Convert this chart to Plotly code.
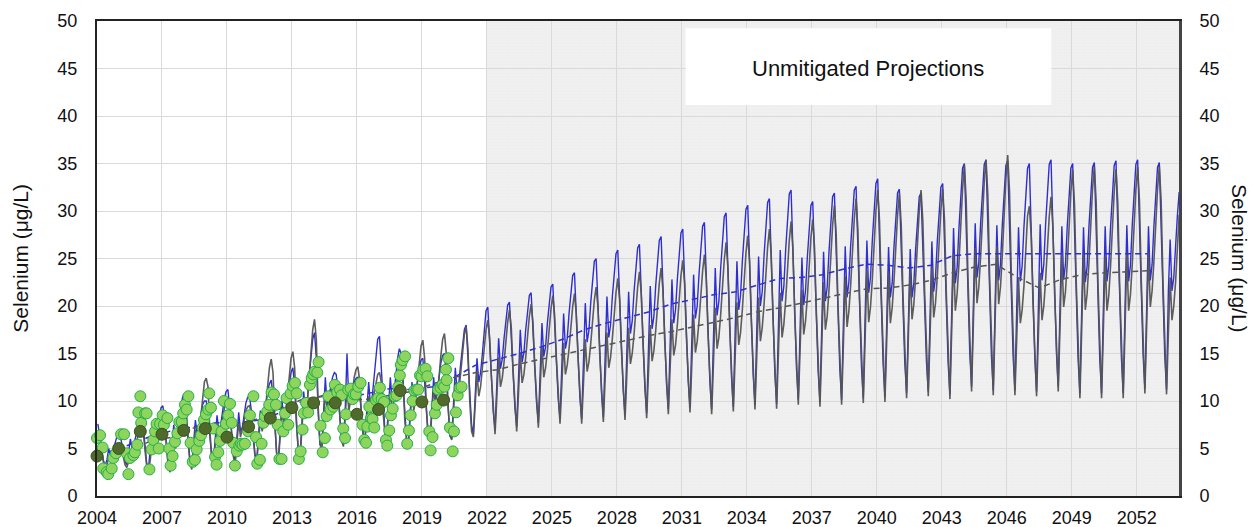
import numpy as np
import plotly.graph_objects as go

# ---------------- DATA ----------------
# Modelled monthly selenium (ug/L), one row per year (Jan..Dec), 2004-2053
model_years = list(range(2004, 2054))

blue_model = [
    [7.6, 6.5, 5.0, 3.8, 3.2, 3.8, 5.0, 4.2, 4.6, 5.2, 6.0, 6.6],          # 2004
    [6.8, 5.8, 4.5, 3.6, 3.3, 4.5, 6.0, 5.0, 5.5, 6.3, 7.2, 8.0],          # 2005
    [8.6, 7.5, 5.5, 3.5, 2.9, 4.8, 7.0, 5.5, 6.2, 7.5, 8.6, 9.3],          # 2006
    [9.5, 7.8, 5.2, 3.2, 2.8, 5.0, 7.5, 6.0, 6.8, 8.2, 9.5, 10.5],         # 2007
    [10.7, 8.8, 6.0, 3.8, 3.0, 5.5, 8.0, 6.5, 7.2, 8.5, 9.6, 10.0],        # 2008
    [10.0, 8.5, 6.2, 4.2, 3.6, 6.0, 8.5, 6.8, 7.5, 8.8, 10.2, 11.0],       # 2009
    [11.2, 9.4, 6.8, 4.5, 3.5, 6.5, 8.8, 6.8, 7.2, 8.5, 9.8, 10.4],        # 2010
    [10.5, 9.0, 6.5, 4.4, 3.8, 6.5, 9.0, 7.2, 8.0, 9.5, 11.0, 11.8],       # 2011
    [12.2, 10.5, 7.0, 4.5, 3.8, 7.0, 10.0, 8.0, 8.8, 10.5, 12.0, 13.0],    # 2012
    [13.5, 11.5, 7.5, 4.8, 4.2, 8.0, 11.0, 9.0, 10.0, 12.5, 15.0, 16.5],   # 2013
    [17.2, 14.5, 9.0, 5.5, 5.0, 9.0, 12.5, 9.5, 10.5, 11.8, 12.5, 13.0],   # 2014
    [12.8, 11.0, 8.0, 5.8, 5.4, 9.0, 15.0, 10.0, 10.8, 11.5, 12.0, 12.4],  # 2015
    [12.5, 10.8, 8.2, 6.5, 6.2, 9.0, 12.0, 9.5, 10.5, 12.5, 15.0, 16.5],   # 2016
    [16.8, 13.5, 9.0, 6.8, 6.4, 9.5, 12.5, 10.0, 11.0, 12.5, 14.5, 15.5],  # 2017
    [15.0, 12.0, 8.5, 6.0, 5.6, 9.0, 12.0, 9.8, 10.5, 12.0, 13.5, 14.3],   # 2018
    [14.5, 12.0, 8.5, 6.2, 6.0, 9.5, 12.5, 10.0, 11.0, 12.5, 14.0, 14.8],  # 2019
    [15.0, 12.5, 9.0, 6.3, 6.0, 10.0, 13.5, 11.0, 12.0, 14.0, 16.0, 17.5], # 2020
    [18.0, 14.5, 10.5, 7.5, 6.5, 11.0, 14.5, 12.0, 13.0, 15.0, 17.5, 19.5],# 2021
    [19.9, 16.0, 12.2, 8.9, 7.0, 13.0, 16.6, 13.4, 14.4, 16.6, 18.8, 20.1],# 2022
    [20.4, 16.5, 12.5, 9.3, 7.3, 13.6, 17.5, 14.1, 15.1, 17.5, 19.7, 21.1],# 2023
    [21.4, 17.3, 13.2, 9.8, 7.7, 14.3, 18.2, 14.7, 15.7, 18.2, 20.5, 22.0],# 2024
    [22.3, 18.0, 13.8, 10.2, 8.1, 15.0, 19.2, 15.5, 16.6, 19.2, 21.7, 23.2],# 2025
    [23.5, 18.9, 14.3, 10.4, 8.1, 15.7, 20.3, 16.2, 17.4, 20.3, 23.0, 24.7],# 2026
    [25.0, 20.0, 15.0, 10.8, 8.3, 16.2, 21.0, 16.7, 18.0, 21.0, 23.8, 25.5],# 2027
    [25.9, 20.7, 15.5, 11.1, 8.5, 16.6, 21.5, 17.1, 18.4, 21.5, 24.3, 26.1],# 2028
    [26.5, 21.2, 15.8, 11.4, 8.7, 17.1, 22.1, 17.6, 18.9, 22.1, 25.1, 26.9],# 2029
    [27.3, 21.8, 16.4, 11.8, 9.1, 17.7, 22.8, 18.2, 19.6, 22.8, 25.8, 27.7],# 2030
    [28.1, 22.5, 16.8, 12.1, 9.3, 18.1, 23.3, 18.7, 20.0, 23.3, 26.5, 28.4],# 2031
    [28.8, 22.9, 17.0, 12.1, 9.1, 18.4, 24.0, 19.0, 20.5, 24.0, 27.3, 29.4],# 2032
    [29.8, 23.7, 17.6, 12.5, 9.4, 18.9, 24.7, 19.6, 21.1, 24.7, 28.1, 30.2],# 2033
    [30.6, 24.3, 18.0, 12.8, 9.6, 19.4, 25.2, 20.0, 21.5, 25.2, 28.7, 30.9],# 2034
    [31.3, 24.8, 18.3, 12.9, 9.7, 19.8, 25.9, 20.5, 22.1, 25.9, 29.5, 31.8],# 2035
    [32.2, 25.6, 18.9, 13.4, 10.1, 19.5, 25.1, 20.1, 21.6, 25.1, 28.5, 30.6],# 2036
    [31.0, 24.7, 18.3, 13.1, 9.9, 19.8, 25.7, 20.5, 22.0, 25.7, 29.3, 31.5],# 2037
    [31.9, 25.4, 18.8, 13.4, 10.1, 20.2, 26.3, 20.9, 22.5, 26.3, 29.9, 32.2],# 2038
    [32.6, 25.9, 19.2, 13.6, 10.3, 20.7, 26.9, 21.4, 23.0, 26.9, 30.6, 32.9],# 2039
    [33.4, 26.5, 19.6, 13.9, 10.4, 20.3, 26.2, 20.9, 22.4, 26.2, 29.7, 31.9],# 2040
    [32.3, 25.9, 19.4, 14.0, 10.8, 20.3, 26.0, 20.9, 22.4, 26.0, 29.4, 31.5],# 2041
    [31.9, 25.6, 19.4, 14.1, 11.0, 20.9, 26.8, 21.5, 23.0, 26.8, 30.3, 32.5],# 2042
    [32.9, 26.2, 19.6, 14.0, 10.7, 21.6, 28.2, 22.4, 24.1, 28.2, 32.1, 34.5],# 2043
    [35.0, 28.0, 20.9, 15.0, 11.5, 22.3, 28.7, 23.0, 24.6, 28.7, 32.5, 34.9],# 2044
    [35.4, 28.1, 20.8, 14.7, 11.1, 22.0, 28.5, 22.7, 24.4, 28.5, 32.4, 34.8],# 2045
    [35.3, 28.0, 20.8, 14.7, 11.1, 21.9, 28.3, 22.6, 24.2, 28.3, 32.1, 34.5],# 2046
    [35.0, 27.8, 20.6, 14.6, 11.0, 22.0, 28.6, 22.7, 24.4, 28.6, 32.5, 34.9],# 2047
    [35.4, 28.2, 21.1, 15.1, 11.5, 22.1, 28.4, 22.8, 24.4, 28.4, 32.2, 34.5],# 2048
    [35.0, 27.7, 20.5, 14.4, 10.8, 21.7, 28.3, 22.5, 24.2, 28.3, 32.2, 34.6],# 2049
    [35.1, 27.8, 20.5, 14.4, 10.8, 21.8, 28.4, 22.6, 24.3, 28.4, 32.4, 34.8],# 2050
    [35.3, 28.0, 20.6, 14.5, 10.8, 21.9, 28.5, 22.6, 24.3, 28.5, 32.4, 34.9],# 2051
    [35.4, 28.2, 20.9, 14.9, 11.3, 22.0, 28.4, 22.7, 24.4, 28.4, 32.2, 34.6],# 2052
    [35.1, 27.9, 20.8, 14.8, 11.2, 21.5, 27.0, 21.6, 23.0, 26.5, 29.5, 32.0],# 2053
]

gray_model = [
    [6.5, 6.0, 4.8, 3.6, 3.0, 3.3, 4.0, 3.6, 3.8, 4.2, 4.8, 5.3],          # 2004
    [5.5, 5.2, 4.2, 3.3, 3.0, 3.6, 4.8, 4.2, 4.6, 5.4, 6.3, 7.0],          # 2005
    [7.5, 7.0, 5.0, 3.2, 2.6, 3.8, 5.8, 4.6, 5.3, 6.5, 7.6, 8.2],          # 2006
    [8.5, 7.8, 5.0, 3.0, 2.5, 4.0, 6.2, 5.0, 5.8, 7.0, 8.0, 8.6],          # 2007
    [8.8, 8.2, 5.5, 3.4, 2.8, 4.5, 7.0, 5.5, 6.5, 8.5, 10.5, 12.0],        # 2008
    [12.4, 11.5, 7.0, 4.2, 3.4, 5.5, 7.5, 6.0, 6.8, 8.0, 9.2, 9.8],        # 2009
    [10.0, 9.2, 6.5, 4.2, 3.3, 5.5, 7.8, 6.2, 7.0, 8.0, 9.0, 9.4],         # 2010
    [9.5, 8.8, 6.2, 4.2, 3.6, 5.8, 8.0, 6.8, 7.8, 9.5, 11.5, 13.5],        # 2011
    [14.4, 13.0, 8.0, 4.5, 3.7, 6.0, 9.0, 7.5, 8.5, 10.5, 12.8, 14.5],     # 2012
    [15.2, 13.5, 8.0, 4.8, 4.0, 7.0, 10.0, 8.5, 9.8, 12.5, 15.5, 17.5],    # 2013
    [18.6, 16.5, 9.5, 5.5, 4.8, 8.0, 11.0, 9.0, 10.0, 11.0, 11.8, 12.0],   # 2014
    [12.0, 11.2, 8.0, 5.8, 5.2, 8.0, 11.5, 9.0, 10.0, 11.0, 12.5, 13.3],   # 2015
    [13.6, 12.2, 8.5, 6.4, 6.0, 8.0, 10.5, 8.8, 9.8, 11.0, 12.2, 12.8],    # 2016
    [13.0, 12.0, 8.8, 6.5, 6.2, 8.5, 11.0, 9.2, 10.0, 11.2, 12.5, 13.6],   # 2017
    [14.0, 12.5, 8.0, 5.8, 5.5, 8.0, 11.0, 9.0, 10.2, 12.0, 14.0, 15.8],   # 2018
    [16.4, 14.5, 9.0, 6.3, 5.9, 8.5, 11.5, 9.5, 10.8, 12.5, 14.8, 16.5],   # 2019
    [17.1, 15.0, 9.5, 6.5, 5.9, 8.8, 12.0, 10.0, 11.2, 13.0, 15.2, 17.0],  # 2020
    [17.8, 15.5, 10.0, 6.8, 6.2, 9.5, 13.0, 10.5, 11.5, 13.5, 15.5, 17.5], # 2021
    [18.5, 16.7, 12.5, 8.9, 6.5, 10.4, 14.6, 11.5, 12.4, 14.1, 16.3, 18.3],# 2022
    [19.6, 17.7, 13.2, 9.4, 6.8, 10.8, 15.1, 11.9, 12.8, 14.6, 16.9, 18.9],# 2023
    [20.2, 18.3, 13.7, 9.8, 7.2, 11.4, 15.8, 12.5, 13.5, 15.3, 17.6, 19.7],# 2024
    [21.1, 19.1, 14.4, 10.3, 7.6, 11.7, 16.1, 12.8, 13.8, 15.5, 17.9, 19.9],# 2025
    [21.3, 19.2, 14.5, 10.3, 7.6, 11.9, 16.5, 13.1, 14.1, 16.0, 18.4, 20.6],# 2026
    [22.0, 19.9, 14.9, 10.6, 7.8, 12.3, 17.2, 13.5, 14.6, 16.6, 19.1, 21.4],# 2027
    [22.9, 20.7, 15.5, 11.0, 8.0, 12.7, 17.7, 13.9, 15.0, 17.0, 19.7, 22.0],# 2028
    [23.6, 21.3, 15.9, 11.3, 8.2, 12.9, 18.0, 14.2, 15.3, 17.4, 20.1, 22.4],# 2029
    [24.0, 21.7, 16.3, 11.7, 8.6, 13.5, 18.6, 14.8, 15.9, 18.0, 20.8, 23.2],# 2030
    [24.8, 22.4, 16.8, 12.0, 8.8, 13.8, 19.1, 15.1, 16.3, 18.4, 21.3, 23.7],# 2031
    [25.4, 22.9, 17.0, 12.0, 8.6, 14.0, 19.8, 15.5, 16.7, 19.1, 22.2, 24.9],# 2032
    [26.7, 24.0, 17.8, 12.5, 8.9, 14.5, 20.4, 15.9, 17.2, 19.6, 22.8, 25.6],# 2033
    [27.4, 24.7, 18.3, 12.8, 9.1, 14.8, 20.9, 16.3, 17.7, 20.1, 23.4, 26.2],# 2034
    [28.1, 25.3, 18.7, 13.0, 9.2, 15.1, 21.4, 16.7, 18.1, 20.6, 24.0, 26.9],# 2035
    [28.9, 26.0, 19.3, 13.5, 9.6, 15.5, 21.7, 17.0, 18.4, 20.9, 24.2, 27.2],# 2036
    [29.1, 26.1, 19.3, 13.3, 9.4, 15.8, 22.5, 17.5, 18.9, 21.7, 25.3, 28.5],# 2037
    [30.6, 27.5, 20.1, 13.8, 9.6, 16.1, 23.1, 17.8, 19.4, 22.2, 25.9, 29.1],# 2038
    [31.3, 28.1, 20.6, 14.1, 9.8, 16.5, 23.7, 18.3, 19.9, 22.8, 26.6, 30.0],# 2039
    [32.2, 28.9, 21.1, 14.4, 9.9, 16.5, 23.5, 18.2, 19.8, 22.6, 26.3, 29.6],# 2040
    [31.8, 28.6, 21.1, 14.6, 10.3, 16.9, 23.9, 18.6, 20.2, 23.0, 26.7, 30.0],# 2041
    [32.2, 28.9, 21.4, 14.8, 10.5, 17.0, 24.0, 18.8, 20.3, 23.1, 26.9, 30.1],# 2042
    [32.3, 29.0, 21.3, 14.6, 10.2, 17.6, 25.5, 19.5, 21.3, 24.5, 28.7, 32.3],# 2043
    [34.8, 31.2, 22.9, 15.8, 11.0, 18.3, 26.1, 20.3, 22.0, 25.2, 29.3, 33.0],# 2044
    [35.4, 31.7, 23.0, 15.6, 10.6, 18.2, 26.3, 20.2, 22.0, 25.3, 29.6, 33.4],# 2045
    [35.9, 32.1, 23.3, 15.7, 10.6, 16.6, 22.9, 18.2, 19.6, 22.1, 25.5, 29.5],# 2046
    [30.5, 27.5, 20.5, 14.5, 10.5, 16.8, 23.5, 18.5, 20.0, 22.7, 26.3, 29.4],# 2047
    [31.5, 28.4, 21.3, 15.1, 11.0, 18.0, 25.4, 19.9, 21.5, 24.5, 28.5, 32.0],# 2048
    [34.3, 30.7, 22.3, 15.1, 10.3, 17.6, 25.4, 19.6, 21.3, 24.5, 28.6, 32.3],# 2049
    [34.7, 31.0, 22.5, 15.2, 10.3, 17.5, 25.2, 19.5, 21.1, 24.3, 28.4, 32.0],# 2050
    [34.4, 30.8, 22.4, 15.1, 10.3, 17.6, 25.4, 19.5, 21.2, 24.4, 28.5, 32.2],# 2051
    [34.6, 31.0, 22.7, 15.6, 10.8, 18.0, 25.6, 19.9, 21.6, 24.7, 28.7, 32.3],# 2052
    [34.7, 31.1, 22.7, 15.5, 10.7, 17.0, 23.0, 18.5, 20.0, 22.5, 26.0, 29.6],# 2053
]

# Annual running averages (mid-year), 2004.5 .. 2052.5
avg_years = list(range(2004, 2053))
blue_avg = [4.6, 5.4, 6.3, 6.9, 7.3, 7.7, 7.7, 8.0, 8.8, 10.0,
            10.6, 10.3, 10.8, 11.3, 11.2, 11.5, 12.5, 13.8, 14.4, 15.0,
            15.7, 16.5, 17.5, 18.2, 18.8, 19.4, 20.2, 20.7, 21.2, 21.5,
            22.2, 22.9, 23.0, 23.3, 23.9, 24.4, 24.3, 24.0, 24.3, 25.3,
            25.5, 25.5, 25.5, 25.5, 25.5, 25.5, 25.5, 25.5, 25.5]
gray_avg = [4.1, 4.8, 5.8, 6.2, 7.2, 7.6, 7.4, 8.2, 9.2, 10.2,
            10.5, 10.0, 10.2, 10.6, 11.0, 11.8, 12.5, 13.0, 13.3, 13.9,
            14.4, 14.9, 15.4, 15.9, 16.4, 16.9, 17.3, 17.8, 18.3, 18.8,
            19.4, 19.8, 20.3, 20.8, 21.3, 21.8, 21.9, 22.2, 22.7, 23.5,
            24.1, 24.4, 23.0, 21.9, 22.8, 23.3, 23.5, 23.6, 23.7]

# Observed samples (decimal year, ug/L)
obs_year = [2004.00, 2004.14, 2004.26, 2004.29, 2004.45, 2004.52, 2004.68, 2004.75, 2004.88,
            2005.11, 2005.25, 2005.37, 2005.45, 2005.52, 2005.68, 2005.75, 2005.86, 2005.91,
            2006.00, 2006.04, 2006.22, 2006.29, 2006.42, 2006.52, 2006.60, 2006.68, 2006.75, 2006.85, 2006.91,
            2007.03, 2007.09, 2007.25, 2007.34, 2007.40, 2007.49, 2007.60, 2007.71, 2007.80, 2007.91, 2007.98,
            2008.06, 2008.14, 2008.22, 2008.32, 2008.42, 2008.52, 2008.60, 2008.72, 2008.80, 2008.88, 2008.94,
            2009.03, 2009.14, 2009.18, 2009.26, 2009.37, 2009.45, 2009.52, 2009.60, 2009.68, 2009.75, 2009.86, 2009.95,
            2010.06, 2010.14, 2010.22, 2010.29, 2010.37, 2010.45, 2010.57, 2010.65, 2010.72, 2010.83, 2010.98,
            2011.06, 2011.22, 2011.34, 2011.40, 2011.52, 2011.60, 2011.68, 2011.75, 2011.86, 2011.95,
            2012.06, 2012.17, 2012.26, 2012.34, 2012.42, 2012.52, 2012.60, 2012.68, 2012.75, 2012.83, 2012.94,
            2013.03, 2013.14, 2013.22, 2013.32, 2013.40, 2013.49, 2013.55, 2013.65, 2013.75, 2013.83, 2013.91, 2013.98,
            2014.06, 2014.17, 2014.23, 2014.32, 2014.42, 2014.52, 2014.60, 2014.68, 2014.78, 2014.91, 2014.98,
            2015.09, 2015.22, 2015.29, 2015.37, 2015.45, 2015.49, 2015.60, 2015.71, 2015.80, 2015.86, 2015.95,
            2016.06, 2016.17, 2016.26, 2016.34, 2016.42, 2016.48, 2016.57, 2016.65, 2016.72, 2016.80, 2016.88, 2016.98,
            2017.06, 2017.14, 2017.25, 2017.34, 2017.40, 2017.49, 2017.57, 2017.65, 2017.75, 2017.83, 2017.91, 2017.98,
            2018.03, 2018.11, 2018.22, 2018.32, 2018.40, 2018.48, 2018.57, 2018.65, 2018.75, 2018.83, 2018.91, 2018.98,
            2019.06, 2019.17, 2019.25, 2019.34, 2019.40, 2019.49, 2019.60, 2019.68, 2019.75, 2019.86, 2019.95,
            2020.03, 2020.11, 2020.14, 2020.22, 2020.29, 2020.42, 2020.48, 2020.57, 2020.65, 2020.75, 2020.83]
obs_value = [6.1, 6.4, 5.1, 2.9, 2.5, 2.3, 2.9, 4.0, 4.5,
             6.5, 6.5, 4.5, 2.3, 4.0, 4.3, 4.6, 5.4, 8.8,
             10.5, 7.7, 8.7, 8.7, 2.8, 4.9, 5.9, 6.8, 7.6, 5.0, 7.6,
             8.5, 7.5, 8.2, 5.0, 3.2, 4.2, 5.7, 6.6, 7.8, 7.8, 8.7,
             9.6, 9.1, 10.5, 5.6, 3.6, 3.8, 4.9, 5.8, 6.4, 7.2, 8.0,
             8.6, 9.1, 10.8, 9.3, 7.1, 4.1, 3.3, 4.6, 5.8, 6.8, 10.0, 7.6,
             8.5, 9.7, 7.7, 5.6, 3.2, 4.7, 5.3, 5.5, 5.4, 5.5, 6.8,
             8.5, 10.5, 6.2, 3.4, 3.8, 5.5, 7.7, 8.4, 8.9, 9.6,
             10.9, 10.7, 9.6, 7.5, 3.9, 3.9, 6.8, 8.7, 10.3, 7.5, 10.8,
             11.6, 11.9, 10.8, 3.9, 4.7, 7.0, 8.7, 9.8, 8.8, 11.7, 12.4, 12.8,
             13.1, 13.0, 14.1, 7.4, 4.6, 6.1, 8.4, 10.5, 9.1, 9.4, 11.7,
             10.9, 11.2, 10.6, 7.1, 6.1, 8.6, 11.2, 11.3, 10.2, 10.7, 10.7,
             11.5, 11.9, 7.5, 5.9, 5.6, 7.3, 9.4, 8.2, 8.1, 7.2, 10.1, 10.3,
             11.4, 10.2, 9.9, 5.9, 5.3, 6.9, 8.5, 9.2, 10.5, 10.6, 11.5, 12.7,
             13.8, 14.3, 14.7, 5.5, 6.9, 8.5, 10.0, 11.1, 11.2, 11.2, 12.7, 12.6,
             13.3, 13.4, 12.6, 6.8, 4.8, 6.2, 8.7, 9.6, 11.2, 11.4, 11.7,
             11.5, 13.3, 12.2, 14.5, 7.2, 4.7, 6.8, 8.8, 10.6, 11.4, 11.5]

# Annual averages of observations
annual_year = [2004, 2005, 2006, 2007, 2008, 2009, 2010, 2011, 2012,
               2013, 2014, 2015, 2016, 2017, 2018, 2019, 2020]
annual_value = [4.2, 5.0, 6.8, 6.5, 6.9, 7.1, 6.2, 7.3, 8.2,
                9.3, 9.8, 9.8, 8.6, 9.1, 11.1, 9.9, 10.1]

x_ticks = list(range(2004, 2053, 3))
y_ticks = list(range(0, 51, 5))
projection_start = 2022
x_end = 2053.95
title_text = "Unmitigated Projections"
axis_title = "Selenium (μg/L)"

# ---------------- FIGURE ----------------
n_months = len(model_years) * 12
x_month = 2004 + (np.arange(n_months) + 0.5) / 12.0
blue_flat = [v for row in blue_model for v in row]
gray_flat = [v for row in gray_model for v in row]
x_avg = [y + 0.5 for y in avg_years]

FONT = "Arial, 'Liberation Sans', sans-serif"
BLUE = "#2f2fd0"
GRAY = "#555555"

fig = go.Figure()

# fine texture over the projection period
fig.add_trace(go.Bar(x=[(projection_start + x_end) / 2], y=[50], width=[x_end - projection_start],
                     marker=dict(color="rgba(0,0,0,0)", line=dict(width=0),
                                 pattern=dict(shape="+", size=3, solidity=0.15, fgcolor="#e4e4e4",
                                              bgcolor="rgba(0,0,0,0)", fillmode="overlay")),
                     showlegend=False, hoverinfo="skip"))

fig.add_trace(go.Scatter(x=x_month, y=blue_flat, mode="lines",
                         line=dict(color=BLUE, width=1.4), showlegend=False, hoverinfo="skip"))
fig.add_trace(go.Scatter(x=x_month, y=gray_flat, mode="lines",
                         line=dict(color=GRAY, width=1.6), opacity=0.95, showlegend=False, hoverinfo="skip"))
fig.add_trace(go.Scatter(x=x_avg, y=blue_avg, mode="lines",
                         line=dict(color=BLUE, width=1.5, dash="6px,4px"), showlegend=False))
fig.add_trace(go.Scatter(x=x_avg, y=gray_avg, mode="lines",
                         line=dict(color=GRAY, width=1.5, dash="6px,4px"), showlegend=False))
fig.add_trace(go.Scatter(x=obs_year, y=obs_value, mode="markers",
                         marker=dict(size=11, color="#8fd45c", line=dict(color="#22b04a", width=1)),
                         cliponaxis=False, showlegend=False))
fig.add_trace(go.Scatter(x=annual_year, y=annual_value, mode="markers",
                         marker=dict(size=12, color="#4e6b2c", line=dict(color="#3b5220", width=1)),
                         cliponaxis=False, showlegend=False))
# right-hand axis carrier
fig.add_trace(go.Scatter(x=[None], y=[None], yaxis="y2", showlegend=False))

# projection shading
fig.add_shape(type="rect", xref="x", yref="paper", x0=projection_start, x1=x_end, y0=0, y1=1,
              fillcolor="#f0f0f0", line=dict(width=0), layer="below")
# title box
fig.add_shape(type="rect", xref="paper", yref="paper", x0=0.544, x1=0.882, y0=0.823, y1=0.985,
              fillcolor="white", line=dict(width=0), layer="above")
fig.add_annotation(xref="paper", yref="paper", x=0.713, y=0.901, xanchor="center", yanchor="middle",
                   text=title_text, showarrow=False, font=dict(family=FONT, size=22, color="#111111"))
# axis titles
fig.add_annotation(xref="paper", yref="paper", x=-0.071, y=0.5, xanchor="center", yanchor="middle",
                   text=axis_title, textangle=-90, showarrow=False,
                   font=dict(family=FONT, size=21, color="#111111"))
fig.add_annotation(xref="paper", yref="paper", x=1.056, y=0.5, xanchor="center", yanchor="middle",
                   text=axis_title, textangle=90, showarrow=False,
                   font=dict(family=FONT, size=21, color="#111111"))

fig.update_layout(
    width=1250, height=527, autosize=False,
    margin=dict(l=97, r=71, t=21, b=31, pad=0),
    paper_bgcolor="white", plot_bgcolor="white",
    font=dict(family=FONT, size=18, color="#111111"),
    bargap=0,
    xaxis=dict(range=[2004, x_end], tickvals=x_ticks, showgrid=True, gridcolor="#d9d9d9",
               gridwidth=1, zeroline=False, showline=True, linecolor="#222222", linewidth=2,
               mirror=True, ticks="", ticklabelstandoff=4, tickfont=dict(size=18), automargin=False),
    yaxis=dict(range=[0, 50], tickvals=y_ticks, showgrid=True, gridcolor="#d9d9d9",
               gridwidth=1, zeroline=False, showline=True, linecolor="#222222", linewidth=2,
               ticks="", ticklabelstandoff=14, tickfont=dict(size=18), automargin=False),
    yaxis2=dict(range=[0, 50], tickvals=y_ticks, overlaying="y", side="right", showgrid=False,
                zeroline=False, showline=True, linecolor="#444444", linewidth=3,
                ticks="", ticklabelstandoff=14, tickfont=dict(size=18), automargin=False),
    hovermode=False,
)

fig.write_html("out.html", config={"responsive": False, "displayModeBar": False},
               post_script="document.body.style.margin='0';document.body.style.overflow='hidden';")
